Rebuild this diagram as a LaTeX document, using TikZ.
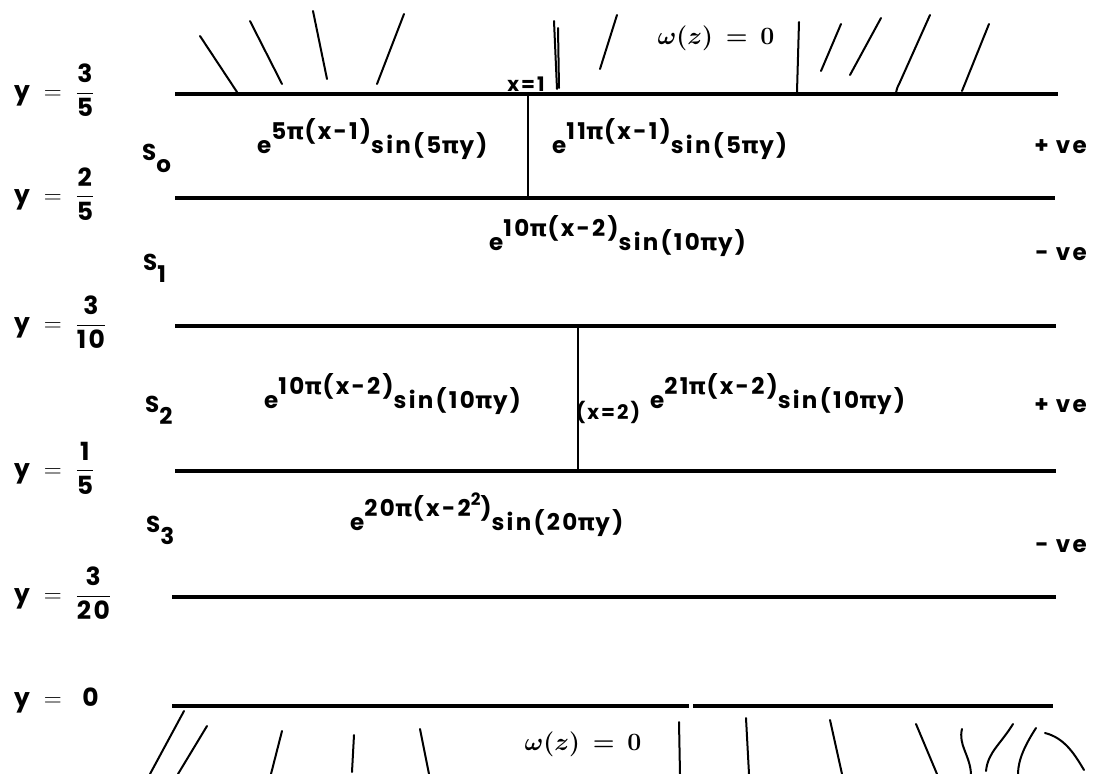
\documentclass[tikz,border=0pt]{standalone}
\usepackage{amsmath}
\usepackage{fontspec}
\setmainfont{Poppins}[LetterSpace=10]
\newfontfamily\pifont{DejaVu Sans}[LetterSpace=10]
\newcommand\ppi{{\pifont\bfseries π}}
\newcommand\efx[2]{e\raisebox{0.6em}{#1}#2}
\begin{document}
\begin{tikzpicture}[x=1pt,y=-1pt,
  txt/.style={inner sep=0pt, anchor=base west, font=\fontsize{23}{28}\selectfont\bfseries},
  lab/.style={inner sep=0pt, anchor=west, font=\fontsize{25}{30}\selectfont\bfseries},
  small/.style={inner sep=0pt, font=\fontsize{20}{24}\selectfont\bfseries},
  omega/.style={inner sep=0pt, font=\fontsize{36}{40}\selectfont\boldmath},
  boundary/.style={line width=3.2pt},
  divider/.style={line width=2.4pt},
  hatch/.style={line width=2pt, line cap=round}]
\useasboundingbox (0,0) rectangle (1112,774);
% horizontal boundaries
\coordinate (a1) at (175,94);  \coordinate (b1) at (1058,94);
\coordinate (a2) at (175,198); \coordinate (b2) at (1055,198);
\coordinate (a3) at (175,326); \coordinate (b3) at (1056,326);
\coordinate (a4) at (175,471); \coordinate (b4) at (1056,471);
\coordinate (a5) at (172,597); \coordinate (b5) at (1056,597);
\coordinate (a6) at (172,706); \coordinate (g1) at (689,706);
\coordinate (g2) at (693,706); \coordinate (b6) at (1053,706);
\draw[boundary] (a1) -- (b1);
\draw[boundary] (a2) -- (b2);
\draw[boundary] (a3) -- (b3);
\draw[boundary] (a4) -- (b4);
\draw[boundary] (a5) -- (b5);
\draw[boundary] (a6) -- (g1);
\draw[boundary] (g2) -- (b6);
% verticals
\coordinate (v1t) at (528,94); \coordinate (v1b) at (528,198);
\coordinate (v2t) at (578,326); \coordinate (v2b) at (578,471);
\draw[divider] (v1t) -- (v1b);
\draw[divider] (v2t) -- (v2b);
% left labels
\node[lab] (ly1) at (14,90) {$\text{y}\;=\;\dfrac{\text{3}}{\text{5}}$};
\node[lab] (ly2) at (14,194) {$\text{y}\;=\;\dfrac{\text{2}}{\text{5}}$};
\node[lab] (ly3) at (14,322) {$\text{y}\;=\;\dfrac{\text{3}}{\text{10}}$};
\node[lab] (ly4) at (14,468) {$\text{y}\;=\;\dfrac{\text{1}}{\text{5}}$};
\node[lab] (ly5) at (14,593) {$\text{y}\;=\;\dfrac{\text{3}}{\text{20}}$};
\node[lab] (ly6) at (14,700) {$\text{y}\;=\;\;\text{0}$};
% strip names
\node[txt] (s0) at (142,160) {S\raisebox{-0.55em}{o}};
\node[txt] (s1) at (143,270) {S\raisebox{-0.55em}{1}};
\node[txt] (s2) at (145,412) {S\raisebox{-0.55em}{2}};
\node[txt] (s3) at (146,532) {S\raisebox{-0.55em}{3}};
% formulas
\node[txt] (f0a) at (257,153) {\efx{5\ppi(x-1)}{sin(5\ppi y)}};
\node[txt] (f0b) at (552,153) {\efx{11\ppi(x-1)}{sin(5\ppi y)}};
\node[txt] (f1) at (489,250) {\efx{10\ppi(x-2)}{sin(10\ppi y)}};
\node[txt] (f2a) at (264,408) {\efx{10\ppi(x-2)}{sin(10\ppi y)}};
\node[txt] (f2b) at (650,408) {\efx{21\ppi(x-2)}{sin(10\ppi y)}};
\node[txt] (f3) at (350,530) {\efx{20\ppi(x-2\raisebox{0.45em}{\fontsize{17}{19}\selectfont 2})}{sin(20\ppi y)}};
% signs
\node[txt, anchor=base east] (p0) at (1087,153) {+\ ve};
\node[txt, anchor=base east] (m1) at (1087,260) {-\ ve};
\node[txt, anchor=base east] (p2) at (1087,412) {+\ ve};
\node[txt, anchor=base east] (m3) at (1087,552) {-\ ve};
% small labels
\node[small] (x1) at (526,84) {x=1};
\node[small] (x2) at (608,412) {(x=2)};
\node[omega] (w1) at (716,38) {$\omega(z)\,=\,0$};
\node[omega] (w2) at (583,744) {$\omega(z)\,=\,0$};
% top hatching
\draw[hatch] (200,36) -- (237,92);
\draw[hatch] (250,21) -- (282,84);
\draw[hatch] (313,11) -- (327,79);
\draw[hatch] (404,14) -- (377,84);
\draw[hatch] (554,21) -- (557,89);
\draw[hatch] (558,28) -- (559,88);
\draw[hatch] (617,15) -- (600,69);
\draw[hatch] (799,22) -- (797,92);
\draw[hatch] (841,24) -- (821,71);
\draw[hatch] (881,18) -- (850,75);
\draw[hatch] (930,15) -- (900,82) .. controls (897,88) .. (896,93);
\draw[hatch] (989,24) -- (962,91);
% bottom hatching
\draw[hatch] (184,711) -- (150,774);
\draw[hatch] (207,726) -- (178,774);
\draw[hatch] (282,731) -- (271,774);
\draw[hatch] (354,735) -- (352,772);
\draw[hatch] (420,729) -- (429,774);
\draw[hatch] (679,722) -- (680,774);
\draw[hatch] (746,718) -- (749,774);
\draw[hatch] (830,720) -- (842,774);
\draw[hatch] (916,724) -- (937,774);
\draw[hatch] (962,729) .. controls (958,745) and (970,755) .. (971,774);
\draw[hatch] (1013,724) .. controls (1000,745) and (988,752) .. (986,771);
\draw[hatch] (1036,728) .. controls (1025,745) and (1018,760) .. (1018,774);
\draw[hatch] (1045,733) .. controls (1065,738) and (1075,755) .. (1084,770);
\end{tikzpicture}
\end{document}
